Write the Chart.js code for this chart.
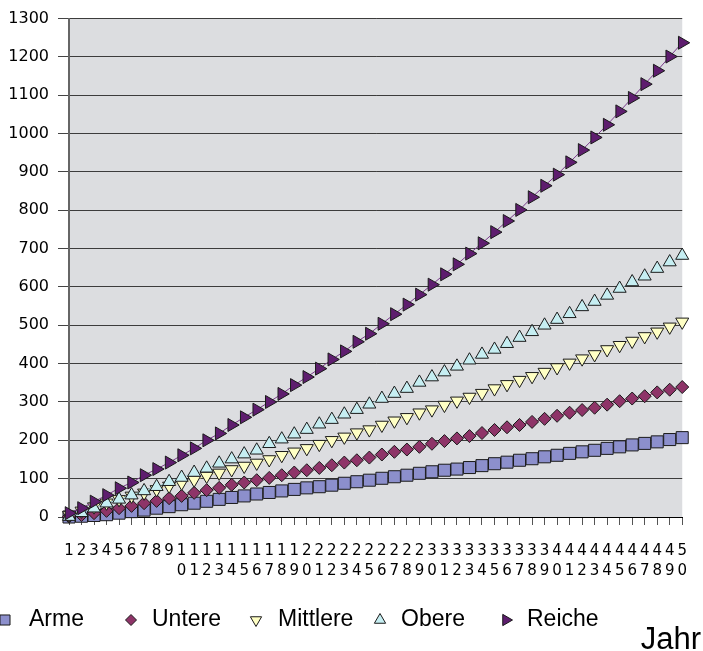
<!DOCTYPE html>
<html>
<head>
<meta charset="utf-8">
<script src="https://cdn.jsdelivr.net/npm/chart.js@4.4.1/dist/chart.umd.min.js"></script>
<style>
    html, body { margin: 0; padding: 0; background: #fff; }
</style>
</head>
<body>
<canvas id="myChart" width="703" height="651"></canvas>
<script>
var years = [1,2,3,4,5,6,7,8,9,10,11,12,13,14,15,16,17,18,19,20,21,22,23,24,25,
             26,27,28,29,30,31,32,33,34,35,36,37,38,39,40,41,42,43,44,45,46,47,48,49,50];
var yTicks = [0,100,200,300,400,500,600,700,800,900,1000,1100,1200,1300];

var arme = [0,2,4,6,10,14,18,23,27,32,36,41,46,51,55,60,64,68,72,76,
            79,83,88,92,96,101,105,109,114,118,122,125,129,134,139,143,148,152,157,161,
            166,170,174,179,183,188,192,196,202,207];
var untere = [1,5,10,16,23,29,36,42,49,55,63,70,76,84,90,96,102,109,116,122,
              128,135,142,148,155,163,170,176,183,191,198,205,211,219,227,234,240,248,256,264,
              272,279,285,293,302,309,315,325,332,339];
var mittlere = [5,16,27,37,46,55,63,72,81,89,97,107,115,124,133,141,150,161,170,179,
                190,200,209,220,228,240,251,260,272,280,292,303,313,323,335,346,357,367,378,390,
                402,413,424,437,448,459,471,483,496,509];
var obere = [1,11,23,36,46,57,68,79,92,103,116,127,140,151,164,174,191,203,216,228,
             242,254,268,280,294,309,322,335,351,365,378,393,409,424,437,452,468,483,500,515,
             530,548,562,578,596,613,628,648,665,682];
var reiche = [10,23,40,57,75,90,109,125,142,161,179,200,218,240,260,280,300,321,344,365,
              387,411,432,457,478,504,529,554,580,606,633,659,687,714,743,772,801,834,864,893,
              925,957,990,1023,1058,1093,1129,1164,1201,1237];

var seriesNames = ['Arme', 'Untere', 'Mittlere', 'Obere', 'Reiche'];
var xTitle = 'Jahr';

Chart.defaults.font.family = 'DejaVu Sans';
Chart.defaults.color = '#000';

function series(label, data, fill, line, style, rot, r, ord) {
    return {
        label: label,
        data: data,
        borderColor: line,
        borderWidth: 1,
        backgroundColor: fill,
        pointStyle: style,
        pointRotation: rot,
        pointRadius: r,
        pointHoverRadius: r,
        pointBackgroundColor: fill,
        pointBorderColor: '#1a1a1a',
        pointBorderWidth: 1,
        clip: false,
        order: ord
    };
}

var datasets = [
    series(seriesNames[0], arme, '#8c8fcc', '#8c8fcc', 'rect', 0, 8.5, 5),
    series(seriesNames[1], untere, '#8e3468', '#8e3468', 'rectRot', 0, 6.5, 4),
    series(seriesNames[2], mittlere, '#ffffc4', '#eee6a0', 'triangle', 180, 7.5, 3),
    series(seriesNames[3], obere, '#c6eef2', '#b0dfe6', 'triangle', 0, 7.5, 2),
    series(seriesNames[4], reiche, '#5e1d6e', '#7a3a8c', 'triangle', 90, 7.5, 1)
];

// grey plot background
var plotBg = {
    id: 'plotBg',
    beforeDraw(chart) {
        var a = chart.chartArea, ctx = chart.ctx;
        ctx.save();
        ctx.fillStyle = '#dcdde0';
        ctx.fillRect(a.left, a.top, a.right - a.left, a.bottom - a.top);
        ctx.restore();
    }
};

// legend row + axis title under the chart
var bottomLegend = {
    id: 'bottomLegend',
    afterDraw(chart) {
        var ctx = chart.ctx;
        var marks = [5, 131, 256, 380, 506];
        var texts = [29, 152, 278, 401, 527];
        var y = 620;
        ctx.save();
        chart.data.datasets.forEach(function (ds, i) {
            ctx.fillStyle = ds.pointBackgroundColor;
            ctx.strokeStyle = '#1a1a1a';
            ctx.lineWidth = 1;
            var r = ds.pointStyle === 'rect' ? 7.1 : (ds.pointStyle === 'rectRot' ? 5.5 : 6.5);
            Chart.helpers.drawPoint(ctx, {pointStyle: ds.pointStyle, rotation: ds.pointRotation,
                radius: r, borderWidth: 1}, marks[i], y);
            ctx.fillStyle = '#000';
            ctx.font = '23px "Liberation Sans"';
            ctx.textBaseline = 'middle';
            ctx.textAlign = 'left';
            ctx.fillText(ds.label, texts[i], y);
        });
        ctx.font = '31px "Liberation Sans"';
        ctx.textAlign = 'right';
        ctx.fillText(xTitle, 701, 640);
        ctx.restore();
    }
};

new Chart('myChart', {
    type: 'line',
    data: {
        labels: years.map(function (n) { return String(n).split(''); }),
        datasets: datasets
    },
    options: {
        responsive: false,
        animation: false,
        layout: { padding: { left: 0, right: 13, top: 18, bottom: 0 } },
        plugins: {
            legend: { display: false },
            tooltip: { enabled: false }
        },
        scales: {
            x: {
                type: 'category',
                offset: false,
                afterFit: function (s) { s.height = 134; },
                grid: { drawOnChartArea: false, drawTicks: true, tickLength: 8, tickColor: '#555' },
                border: { color: '#000', width: 1 },
                ticks: { autoSkip: false, maxRotation: 0, minRotation: 0, padding: 16,
                         font: { size: 15, lineHeight: 1.35 }, color: '#000' }
            },
            y: {
                min: yTicks[0],
                max: yTicks[yTicks.length - 1],
                afterFit: function (s) { s.width = 69; },
                afterBuildTicks: function (s) { s.ticks = yTicks.map(function (v) { return {value: v}; }); },
                grid: { color: '#3c3c3c', lineWidth: 1, tickLength: 11, tickColor: '#444' },
                border: { color: '#666', width: 2 },
                ticks: { padding: 9, font: { size: 16 }, color: '#000',
                         callback: function (v) { return String(v); } }
            }
        }
    },
    plugins: [plotBg, bottomLegend]
});
</script>
</body>
</html>
